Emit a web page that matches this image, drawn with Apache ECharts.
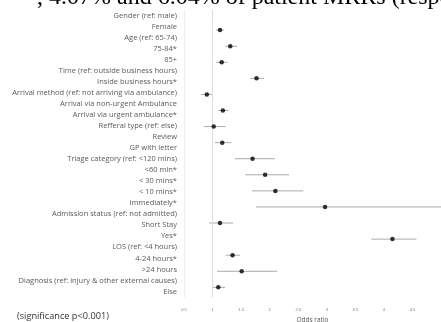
<!DOCTYPE html>
<html>
<head>
<meta charset="utf-8">
<script src="https://cdn.jsdelivr.net/npm/echarts@6/dist/echarts.min.js"></script>
<style>
html,body{margin:0;padding:0;background:#fff;}
#main{width:441px;height:322px;}
</style>
</head>
<body>
<div id="main"></div>
<script>
// labels in the left column (one per line)
var labelRows = [
	'Gender (ref: male)', 'Female',
	'Age (ref: 65-74)', '75-84*', '85+',
	'Time (ref: outside business hours)', 'Inside business hours*',
	'Arrival method (ref: not arriving via ambulance)', 'Arrival via non-urgent Ambulance', 'Arrival via urgent ambulance*',
	'Refferal type (ref: else)', 'Review', 'GP with letter',
	'Triage category (ref: <120 mins)', '<60 min*', '< 30 mins*', '< 10 mins*', 'Immediately*',
	'Admission status (ref: not admitted)', 'Short Stay', 'Yes*',
	'LOS (ref: <4 hours)', '4-24 hours*', '>24 hours',
	'Diagnosis (ref: injury & other external causes)', 'Else'
];

// estimates (non-reference levels only)
var pointRows = ['Female', '75-84*', '85+', 'Inside business hours*', 'Arrival via non-urgent Ambulance',
	'Arrival via urgent ambulance*', 'Review', 'GP with letter', '<60 min*', '< 30 mins*', '< 10 mins*',
	'Immediately*', 'Short Stay', 'Yes*', '4-24 hours*', '>24 hours', 'Else'];
var orVals = [1.13, 1.31, 1.16, 1.77, 0.90, 1.18, 1.02, 1.17, 1.70, 1.92, 2.10, 2.97, 1.13, 4.15, 1.35, 1.51, 1.10];
var loVals = [1.06, 1.22, 1.06, 1.66, 0.80, 1.10, 0.85, 1.04, 1.39, 1.57, 1.69, 1.76, 0.94, 3.78, 1.23, 1.08, 0.99];
var hiVals = [1.20, 1.43, 1.26, 1.90, 1.00, 1.28, 1.23, 1.33, 2.09, 2.34, 2.59, 5.30, 1.36, 4.57, 1.48, 2.13, 1.22];

var xTicks = [0.5, 1, 1.5, 2, 2.5, 3, 3.5, 4, 4.5];

var pointData = [];
var barData = [];
for (var i = 0; i < pointRows.length; i++) {
	pointData.push([orVals[i], i]);
	barData.push([loVals[i], hiVals[i], i]);
}

var myChart = echarts.init(document.getElementById('main'));
var option = {
	animation: false,
	graphic: [
		{
			type: 'text',
			left: 37,
			top: -14,
			silent: true,
			style: {
				text: ', 4.07% and 6.04% of patient MRRs (respectively',
				font: '24px "Liberation Serif"',
				fill: '#000'
			}
		},
		{
			type: 'text',
			left: 17,
			top: 312,
			style: {
				text: '(significance p<0.001)',
				font: '9.2px "Open Sans"',
				fill: '#333'
			}
		}
	],
	grid: [
		{left: 178, width: 1, top: 10, height: 287, outerBoundsMode: 'none'},
		{left: 184, right: 0, top: 10, height: 287, outerBoundsMode: 'none'}
	],
	xAxis: [
		{gridIndex: 0, type: 'value', show: false},
		{
			gridIndex: 1,
			type: 'value',
			min: 0.5,
			max: 5,
			interval: 0.5,
			name: 'Odds ratio',
			nameLocation: 'middle',
			nameGap: 15,
			nameTextStyle: {fontSize: 6.5, color: '#555', fontFamily: 'Open Sans'},
			axisLine: {show: false},
			axisTick: {show: false},
			splitLine: {show: false},
			axisLabel: {
				fontSize: 4,
				color: '#777',
				margin: 11,
				showMaxLabel: false,
				formatter: function(v){ return xTicks.indexOf(v) >= 0 ? String(v) : ''; }
			}
		}
	],
	yAxis: [
		{
			gridIndex: 0,
			type: 'category',
			inverse: true,
			data: labelRows,
			axisLine: {show: false},
			axisTick: {show: false},
			axisLabel: {fontSize: 7.5, color: '#5a5a5a', margin: 1, fontFamily: 'Open Sans', interval: 0}
		},
		{
			gridIndex: 1,
			type: 'value',
			inverse: true,
			min: -1.25,
			max: 16.6,
			axisLine: {show: true, lineStyle: {color: '#eeeeee', width: 1}},
			axisTick: {show: false},
			axisLabel: {show: false},
			splitLine: {show: false}
		}
	],
	series: [
		{
			type: 'custom',
			xAxisIndex: 1,
			yAxisIndex: 1,
			clip: true,
			data: barData,
			renderItem: function(params, api){
				var a = api.coord([api.value(0), api.value(2)]);
				var b = api.coord([api.value(1), api.value(2)]);
				return {
					type: 'line',
					shape: {x1: a[0], y1: a[1], x2: b[0], y2: b[1]},
					style: {stroke: '#aaaaaa', lineWidth: 1}
				};
			},
			markLine: {
				silent: true,
				symbol: 'none',
				label: {show: false},
				lineStyle: {color: '#dddddd', type: 'solid', width: 1},
				data: [{xAxis: 1}]
			}
		},
		{
			type: 'scatter',
			xAxisIndex: 1,
			yAxisIndex: 1,
			symbolSize: 4.5,
			itemStyle: {color: '#000'},
			data: pointData,
			z: 5
		}
	]
};
myChart.setOption(option);
</script>
</body>
</html>
